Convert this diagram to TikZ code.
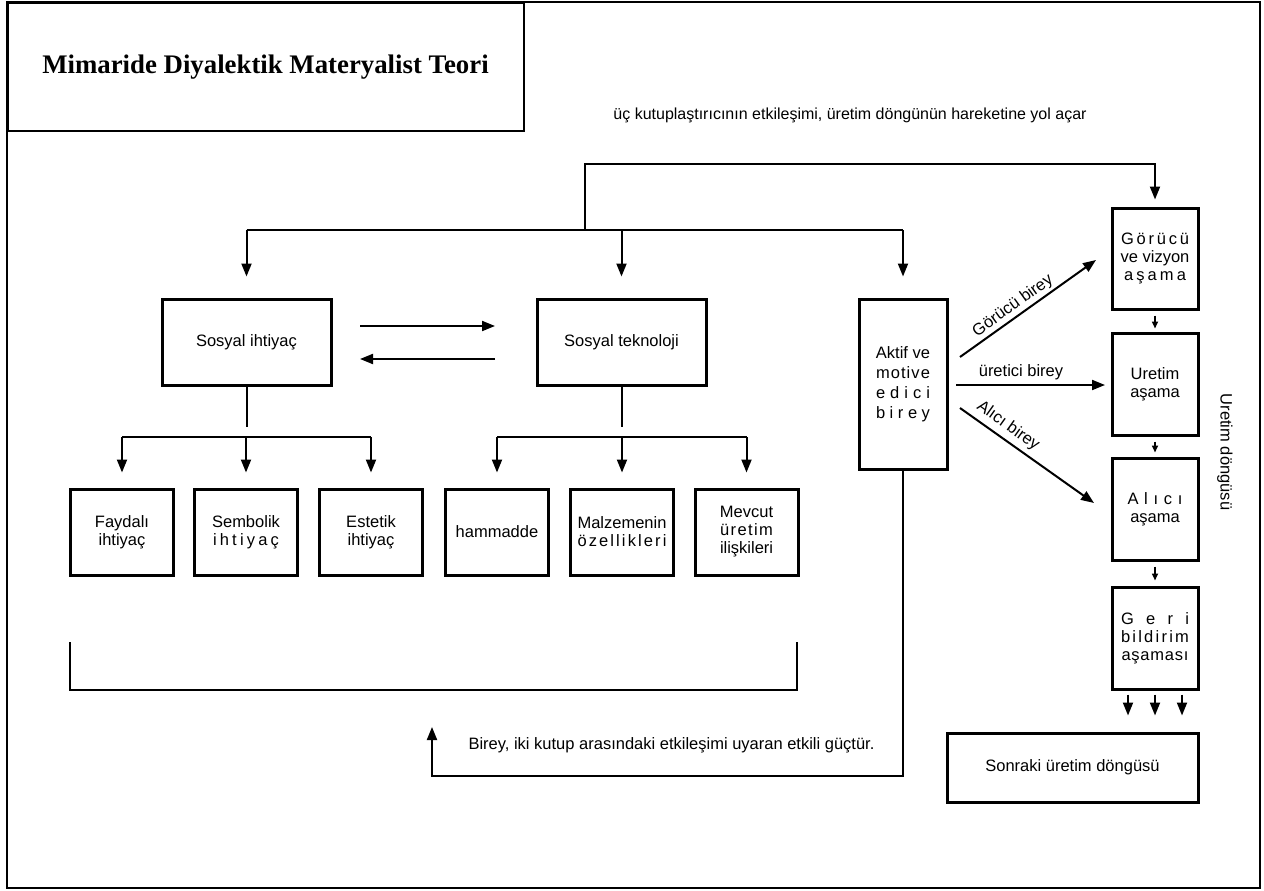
\documentclass[tikz,border=0pt]{standalone}
\usepackage{fontspec}
\setmainfont{Liberation Sans}
\newfontfamily\titlefont{Liberation Serif}
\usetikzlibrary{arrows.meta,calc}
\newcommand\spr[2]{\makebox[#1][s]{\sprfirst#2\relax}}
\def\sprfirst#1{#1\sprrest}
\def\sprrest#1{\ifx#1\relax\else\hfil#1\expandafter\sprrest\fi}
\begin{document}
\begin{tikzpicture}[x=1pt,y=-1pt,
  font=\fontsize{16.5}{18}\selectfont,
  line width=2pt,
  box/.style={draw, line width=3pt, inner sep=0pt, align=center},
  arr/.style={-{Triangle[length=13pt,width=10pt]}},
  sarr/.style={-{Triangle[length=7pt,width=6pt]}, line width=1.6pt}]
\useasboundingbox (0,0) rectangle (1264,891);
% frame and title
\draw[line width=2pt] (7,2) rectangle (1260,888);
\node[draw, line width=2pt, minimum width=516pt, minimum height=128pt, inner sep=0pt, anchor=north west] (titlebox) at (7,2) {};
\node[font=\titlefont\bfseries\fontsize{26.8}{30}\selectfont] (ttl) at (265.5,67) {Mimaride Diyalektik Materyalist Teori};
\node[font=\fontsize{16}{18}\selectfont] (toptext) at (850,115) {üç kutuplaştırıcının etkileşimi, üretim döngünün hareketine yol açar};
% main boxes
\node[box, minimum width=169pt, minimum height=86pt] (sn) at (246.5,342) {Sosyal ihtiyaç};
\node[box, minimum width=169pt, minimum height=86pt] (st) at (621.5,342) {Sosyal teknoloji};
\node[box, minimum width=103pt, minimum height=86pt] (c1) at (122,532) {Faydalı\\ihtiyaç};
\node[box, minimum width=103pt, minimum height=86pt] (c2) at (246,532) {Sembolik\\\spr{66pt}{ihtiyaç}};
\node[box, minimum width=103pt, minimum height=86pt] (c3) at (371,532) {Estetik\\ihtiyaç};
\node[box, minimum width=103pt, minimum height=86pt] (c4) at (497,532) {hammadde};
\node[box, minimum width=103pt, minimum height=86pt] (c5) at (622,532) {Malzemenin\\\spr{89pt}{özellikleri}};
\node[box, minimum width=103pt, minimum height=86pt] (c6) at (746.5,532) {Mevcut\\\spr{53pt}{üretim}\\\spr{53pt}{ilişkileri}};
\node[box, minimum width=88pt, minimum height=170pt, font=\fontsize{16.5}{20}\selectfont] (ak) at (903,384) {Aktif ve\\\spr{54pt}{motive}\\\spr{54pt}{edici}\\\spr{54pt}{birey}};
\node[box, minimum width=86pt, minimum height=101pt] (g1) at (1155,258.5) {\spr{68pt}{Görücü}\\ve vizyon\\\spr{62pt}{aşama}};
\node[box, minimum width=86pt, minimum height=102pt] (g2) at (1155,384) {Uretim\\aşama};
\node[box, minimum width=86pt, minimum height=102pt] (g3) at (1155,509) {\spr{55pt}{Alıcı}\\aşama};
\node[box, minimum width=86pt, minimum height=102pt] (g4) at (1155,638) {\spr{68pt}{Geri}\\\spr{68pt}{bildirim}\\\spr{67pt}{aşaması}};
\node[box, minimum width=251pt, minimum height=69pt] (sr) at (1072.5,767.5) {Sonraki üretim döngüsü};
% top distribution
\coordinate (j0) at (585,230);
\coordinate (j1) at (585,164);
\draw[arr, shorten >=7pt] (j0) -- (j1) -| (g1.north);
\draw (sn.north |- j0) -- (ak.north |- j0);
\foreach \n in {sn,st,ak} \draw[arr, shorten >=21pt] (\n.north |- j0) -- (\n.north);
% sn <-> st
\coordinate (h1a) at (360,326); \coordinate (h1b) at (495,326);
\coordinate (h2a) at (495,359); \coordinate (h2b) at (360,359);
\draw[arr] (h1a) -- (h1b);
\draw[arr] (h2a) -- (h2b);
% stems and branches
\coordinate (bar) at (0,437);
\draw (sn.south) -- ++(0,40);
\draw (st.south) -- ++(0,40);
\draw (c1.north |- bar) -- (c3.north |- bar);
\draw (c4.north |- bar) -- (c6.north |- bar);
\foreach \n in {c1,c2,c3,c4,c5,c6} \draw[arr, shorten >=15pt] (\n.north |- bar) -- (\n.north);
% Aktif to stages
\coordinate (p1) at (960,357); \coordinate (q1) at (1096,260);
\coordinate (p2) at (956,385); \coordinate (q2) at (1105,385);
\coordinate (p3) at (960,408); \coordinate (q3) at (1094,503);
\draw[arr] (p1) -- (q1);
\draw[arr] (p2) -- (q2);
\draw[arr] (p3) -- (q3);
\node[rotate=35.7, inner sep=1pt] (l1) at (1013,306) {Görücü birey};
\node[inner sep=1pt] (l2) at (1021,372) {üretici birey};
\node[rotate=-35.5, inner sep=1pt] (l3) at (1008,426) {Alıcı birey};
\node[rotate=-90] (cyc) at (1225,452) {Uretim döngüsü};
% stage arrows
\draw[sarr] ([yshift=-5pt]g1.south) -- ([yshift=3pt]g2.north);
\draw[sarr] ([yshift=-5pt]g2.south) -- ([yshift=4pt]g3.north);
\draw[sarr] ([yshift=-5pt]g3.south) -- ([yshift=5pt]g4.north);
\foreach \dx in {-27,0,27}
  \draw[arr] ($(g4.south)+(\dx,4)$) -- ($(g4.south |- sr.north)+(\dx,-16)$);
% bracket
\draw[line width=2.4pt] (70,642) -- (70,690) -- (797,690) -- (797,642);
% return arrow
\coordinate (ret) at (432,776);
\coordinate (rettip) at (432,727);
\draw[arr] (ak.south) |- (ret) -- (rettip);
\node (bottomtext) at (671.5,745) {Birey, iki kutup arasındaki etkileşimi uyaran etkili güçtür.};
\end{tikzpicture}
\end{document}
